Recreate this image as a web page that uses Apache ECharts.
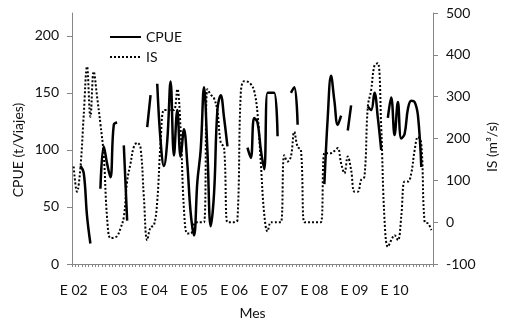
<!DOCTYPE html>
<html>
<head>
<meta charset="utf-8">
<script src="https://cdn.jsdelivr.net/npm/echarts@6/dist/echarts.min.js"></script>
<style>
  html, body { margin: 0; padding: 0; background: #fff; }
  #chart { width: 508px; height: 331px; }
</style>
</head>
<body>
<div id="chart"></div>
<script>
// Monthly series, January 2002 to December 2010
const monthAbbr = ['E', 'F', 'M', 'A', 'M', 'J', 'J', 'A', 'S', 'O', 'N', 'D'];
const years = ['02', '03', '04', '05', '06', '07', '08', '09', '10'];

// CPUE (t/viajes), left axis; null = no fishing data that month
const cpue2002 = [null, null, 86, 80, 42, 18, null, null, 66, 103, 88, 76];
const cpue2003 = [122, 124, null, 104, 38, null, null, null, null, null, 120, 148];
const cpue2004 = [null, 158, 108, 86, 108, 160, 95, 135, 94, 118, 88, 45];
const cpue2005 = [25, 72, 100, 155, 100, 33, 62, 135, 148, 128, 103, null];
const cpue2006 = [null, null, null, null, 102, 93, 128, 124, 100, 83, 150, 150];
const cpue2007 = [150, 112, null, null, null, 150, 155, 122, null, null, null, null];
const cpue2008 = [null, null, null, 70, 128, 165, 143, 122, 130, null, 117, 139];
const cpue2009 = [null, null, null, null, 138, 135, 150, 128, 100, null, 128, 146];
const cpue2010 = [113, 142, 110, 114, 136, 143, 142, 130, 85, null, null, null];

// IS (m3/s), right axis
const is2002 = [133, 73, 128, 255, 372, 252, 360, 300, 235, 160, 10, -38];
const is2003 = [-37, -33, -15, 12, 98, 140, 180, 190, 178, 60, -43, -12];
const is2004 = [-8, 50, 190, 268, 268, 268, 268, 318, 220, 30, -27, -27];
const is2005 = [-5, 0, 0, 0, 318, 305, 296, 265, 190, 178, 0, 0];
const is2006 = [0, 5, 310, 337, 336, 330, 314, 260, 140, 20, -22, 0];
const is2007 = [0, 0, 0, 160, 145, 157, 216, 180, 172, 0, 0, 0];
const is2008 = [0, 0, 0, 165, 165, 165, 170, 177, 141, 117, 157, 125];
const is2009 = [73, 73, 101, 109, 276, 316, 375, 380, 228, 5, -59, -43];
const is2010 = [-31, -43, 13, 97, 97, 117, 172, 204, 188, 0, -3, -19];

// Axis ticks
const cpueTicks = { min: 0, max: 220, step: 50 };
const isTicks = { min: -100, max: 500, step: 100 };

const categories = [];
years.forEach(y => monthAbbr.forEach(m => categories.push(m + ' ' + y)));

const cpue = [].concat(cpue2002, cpue2003, cpue2004, cpue2005, cpue2006,
                       cpue2007, cpue2008, cpue2009, cpue2010);
const is = [].concat(is2002, is2003, is2004, is2005, is2006,
                     is2007, is2008, is2009, is2010);

const FONT = 'Lato';
const FS = 14;
const TEXT = '#111';
const AXIS = '#868686';

const chart = echarts.init(document.getElementById('chart'), null, { renderer: 'canvas' });

chart.setOption({
  animation: false,
  backgroundColor: '#fff',
  textStyle: { fontFamily: FONT, color: TEXT },
  grid: { left: 72, right: 75, top: 13, bottom: 67, containLabel: false },
  legend: {
    left: 104,
    top: 25,
    orient: 'vertical',
    itemWidth: 31,
    itemHeight: 14,
    itemGap: 6,
    itemStyle: { opacity: 0 },
    textStyle: { fontFamily: FONT, fontSize: FS, color: TEXT },
    data: ['CPUE', 'IS']
  },
  // Vertical axis titles
  graphic: [
    {
      type: 'text',
      x: 18,
      y: 150,
      rotation: Math.PI / 2,
      style: {
        text: 'CPUE (t/Viajes)',
        fontFamily: FONT,
        fontSize: FS,
        fill: TEXT,
        align: 'center',
        verticalAlign: 'middle'
      }
    },
    {
      type: 'text',
      x: 492,
      y: 147,
      rotation: Math.PI / 2,
      style: {
        text: 'IS (m³/s)',
        fontFamily: FONT,
        fontSize: FS,
        fill: TEXT,
        align: 'center',
        verticalAlign: 'middle'
      }
    }
  ],
  xAxis: {
    type: 'category',
    data: categories,
    boundaryGap: true,
    name: 'Mes',
    nameLocation: 'middle',
    nameGap: 42,
    nameTextStyle: { fontFamily: FONT, fontSize: FS, color: TEXT },
    axisLine: { lineStyle: { color: AXIS, width: 1 } },
    axisTick: { show: true, interval: 0, length: 3, lineStyle: { color: AXIS } },
    axisLabel: {
      interval: 11,
      margin: 19,
      fontFamily: FONT,
      fontSize: FS,
      color: TEXT
    },
    splitLine: { show: false }
  },
  yAxis: [
    {
      type: 'value',
      min: cpueTicks.min,
      max: cpueTicks.max,
      interval: cpueTicks.step,
      axisLine: { show: true, lineStyle: { color: AXIS } },
      axisTick: { show: true, length: 5, lineStyle: { color: AXIS } },
      axisLabel: {
        margin: 13,
        fontFamily: FONT,
        fontSize: FS,
        color: TEXT,
        showMaxLabel: false
      },
      splitLine: { show: false }
    },
    {
      type: 'value',
      position: 'right',
      min: isTicks.min,
      max: isTicks.max,
      interval: isTicks.step,
      axisLine: { show: true, lineStyle: { color: AXIS } },
      axisTick: { show: true, length: 5, lineStyle: { color: AXIS } },
      axisLabel: {
        margin: 13,
        fontFamily: FONT,
        fontSize: FS,
        color: TEXT
      },
      splitLine: { show: false }
    }
  ],
  series: [
    {
      name: 'CPUE',
      type: 'line',
      yAxisIndex: 0,
      data: cpue,
      smooth: 0.4,
      symbol: 'none',
      connectNulls: false,
      lineStyle: { color: '#000', width: 2.5, cap: 'butt', join: 'round' },
      itemStyle: { color: '#000' },
      z: 3
    },
    {
      name: 'IS',
      type: 'line',
      yAxisIndex: 1,
      data: is,
      smooth: 0.4,
      symbol: 'none',
      lineStyle: { color: '#000', width: 2, type: [2, 2], cap: 'butt' },
      itemStyle: { color: '#000' },
      z: 2
    }
  ]
});
</script>
</body>
</html>
